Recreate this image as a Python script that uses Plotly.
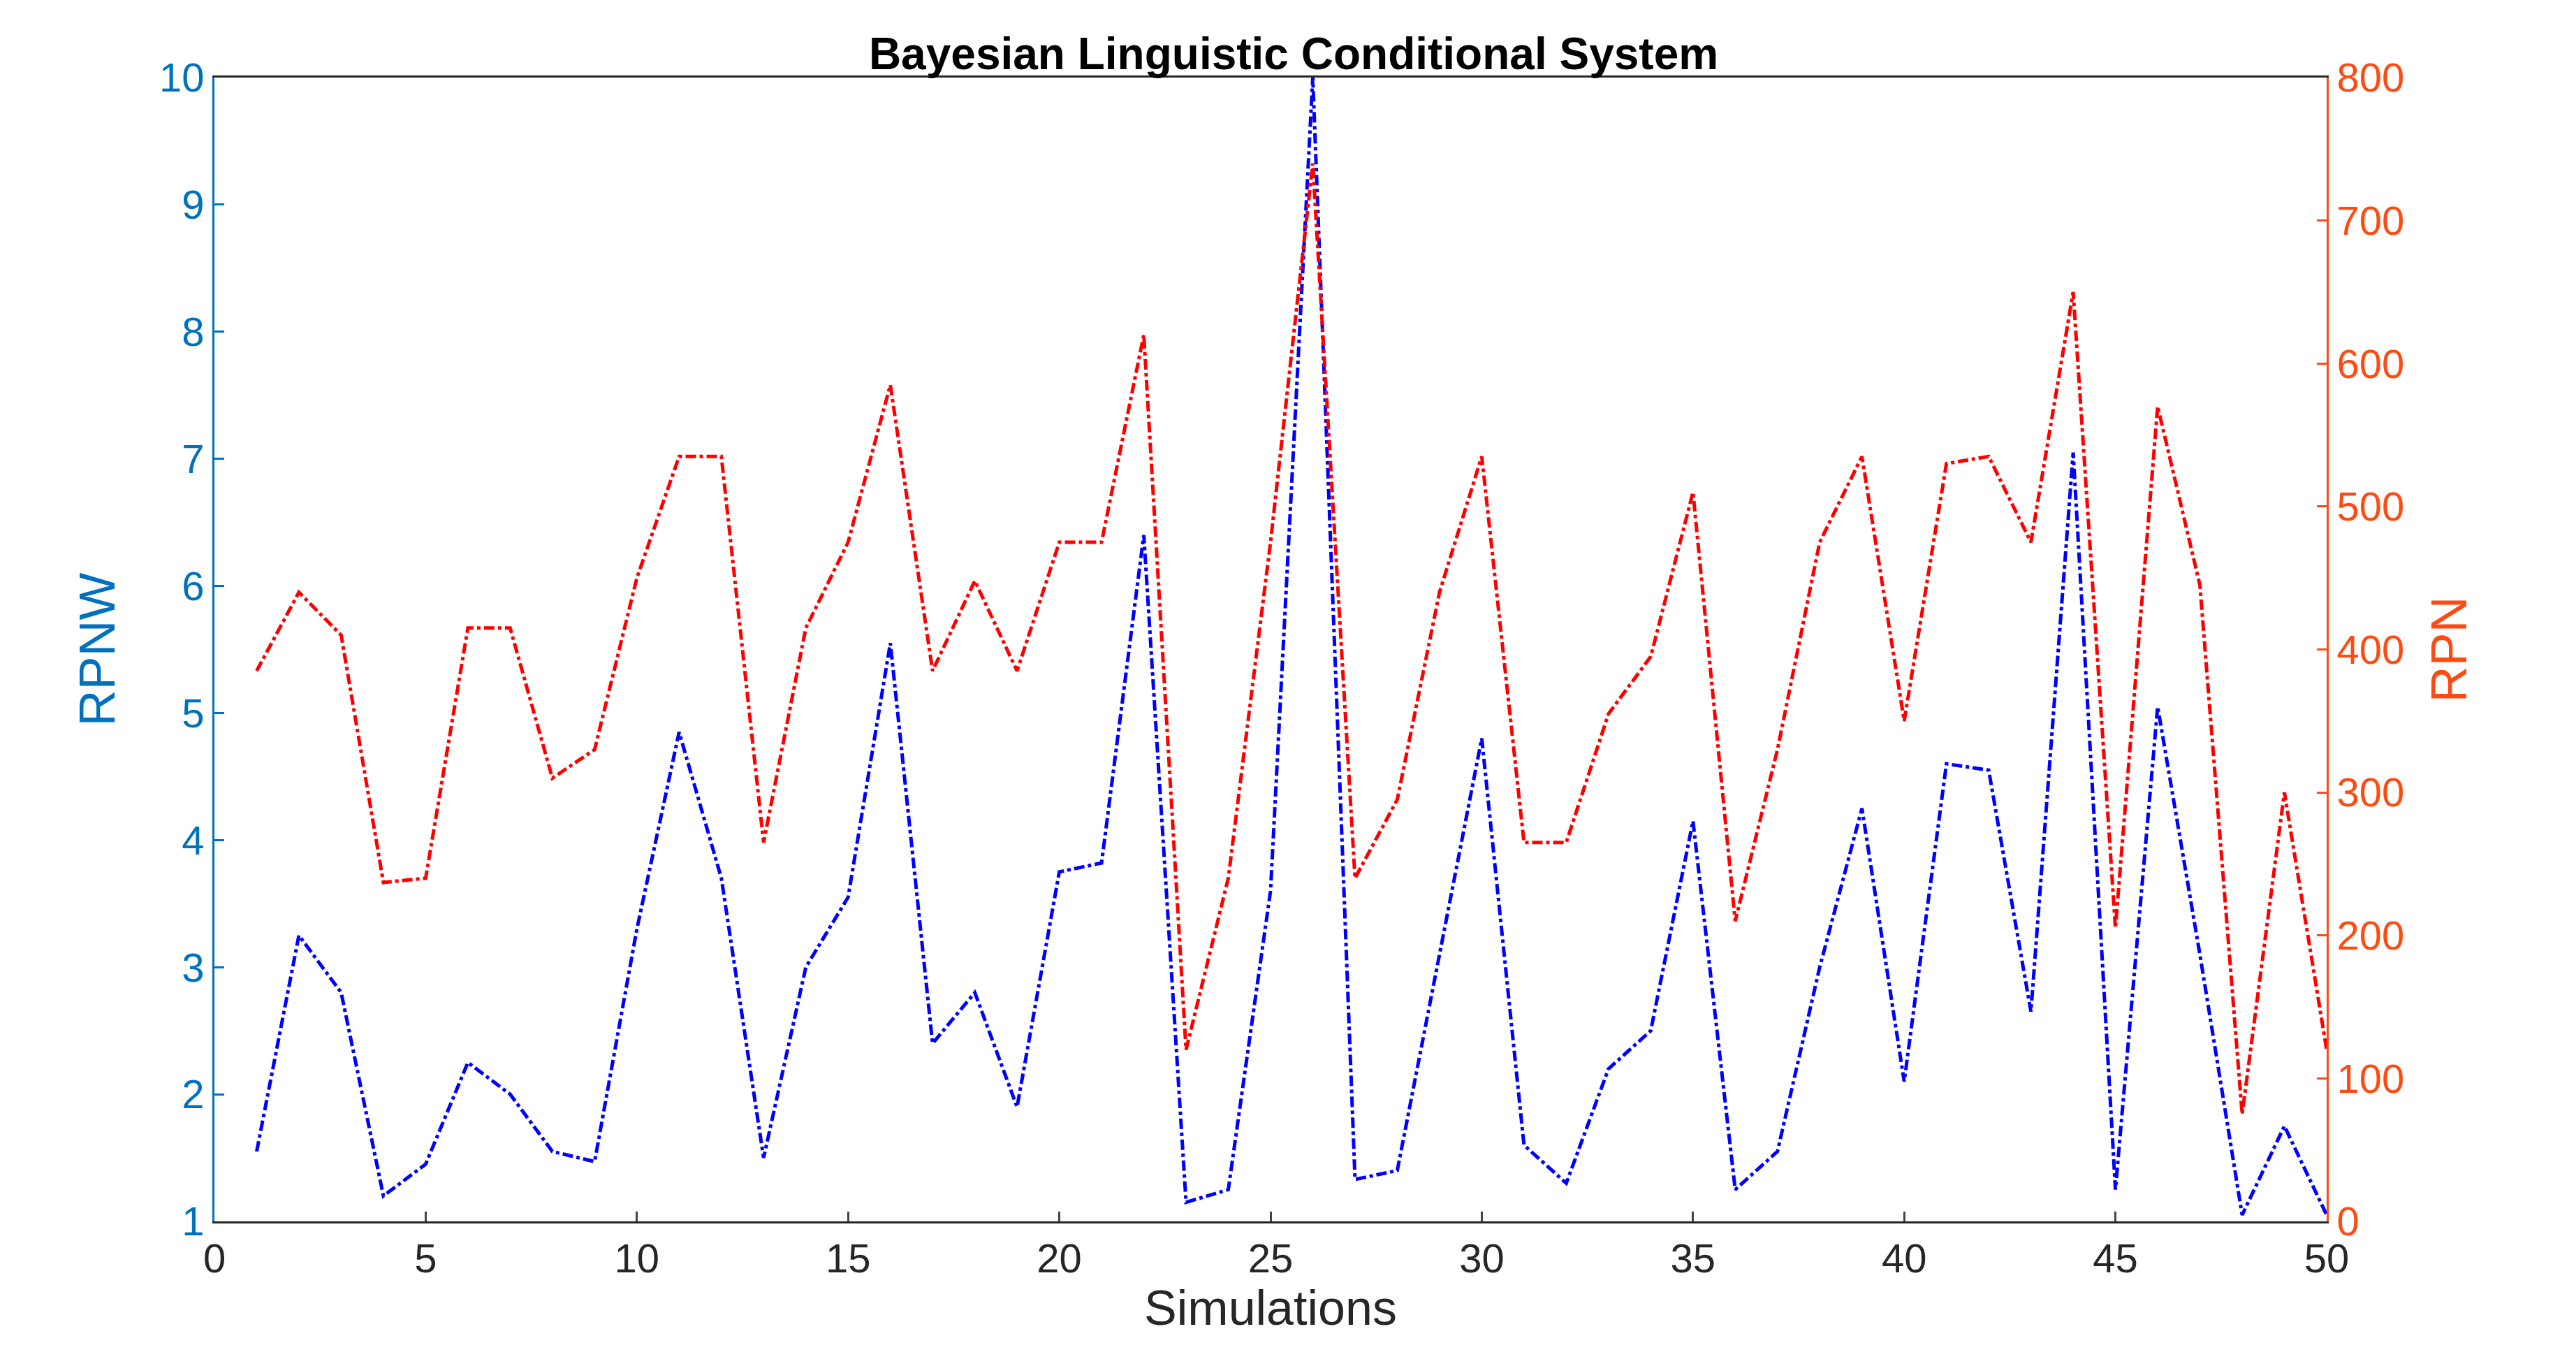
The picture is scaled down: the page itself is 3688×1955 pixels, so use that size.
import plotly.graph_objects as go

sims = list(range(1, 51))
rpnw = [1.55,3.25,2.8,1.2,1.45,2.25,2.0,1.55,1.47,3.3,4.85,3.7,1.5,3.0,3.55,5.55,2.4,2.8,1.9,3.75,
        3.82,6.4,1.15,1.25,3.6,10.0,1.33,1.4,3.1,4.8,1.6,1.3,2.2,2.5,4.15,1.25,1.55,3.0,4.25,2.1,
        4.6,4.55,2.65,7.05,1.25,5.05,3.1,1.05,1.75,1.05]
rpn = [385,440,410,237,240,415,415,310,330,450,535,535,265,415,475,585,385,448,385,475,
       475,620,120,240,475,740,240,295,440,535,265,265,355,395,510,210,330,475,535,350,
       530,535,475,650,205,570,445,75,300,120]

blue_ax = "#0072BD"
red_ax = "#FF4A12"
fig = go.Figure()
fig.add_trace(go.Scatter(x=sims, y=rpnw, mode="lines", line=dict(color="#0000FF", width=5, dash="dashdot"), yaxis="y"))
fig.add_trace(go.Scatter(x=sims, y=rpn, mode="lines", line=dict(color="#FF0000", width=5, dash="dashdot"), yaxis="y2"))

tickfont = dict(family="Liberation Sans, Arial", size=58)
fig.update_layout(
    width=3688, height=1955, showlegend=False,
    plot_bgcolor="white", paper_bgcolor="white",
    margin=dict(l=299, r=365, t=103, b=215),
    title=dict(text="<b>Bayesian Linguistic Conditional System</b>", x=0.5, xanchor="center",
               yref="paper", y=1.0, yanchor="bottom", pad=dict(b=12),
               font=dict(family="Liberation Sans, Arial", size=64, color="black")),
    xaxis=dict(range=[0, 50], tickvals=list(range(0, 51, 5)), ticks="inside", ticklen=14, tickwidth=3,
               showgrid=False, zeroline=False, showline=True, linecolor="#262626", linewidth=3, mirror=True,
               tickfont=dict(tickfont, color="#262626"),
               title=dict(text="Simulations", font=dict(family="Liberation Sans, Arial", size=70, color="#262626"), standoff=10)),
    yaxis=dict(range=[1, 10], tickvals=list(range(1, 11)), ticks="inside", ticklen=14, tickwidth=3,
               showgrid=False, zeroline=False, showline=True, linecolor=blue_ax, linewidth=3,
               tickfont=dict(tickfont, color=blue_ax), tickcolor=blue_ax,
               title=dict(text="RPNW", font=dict(family="Liberation Sans, Arial", size=72, color=blue_ax), standoff=40)),
    yaxis2=dict(range=[0, 800], tickvals=list(range(0, 801, 100)), overlaying="y", side="right", ticks="inside",
                ticklen=14, tickwidth=3, showgrid=False, zeroline=False, showline=True, linecolor=red_ax, linewidth=3,
                tickfont=dict(tickfont, color=red_ax), tickcolor=red_ax,
                title=dict(text="RPN", font=dict(family="Liberation Sans, Arial", size=72, color=red_ax), standoff=40)),
)
fig.write_html("out.html")
